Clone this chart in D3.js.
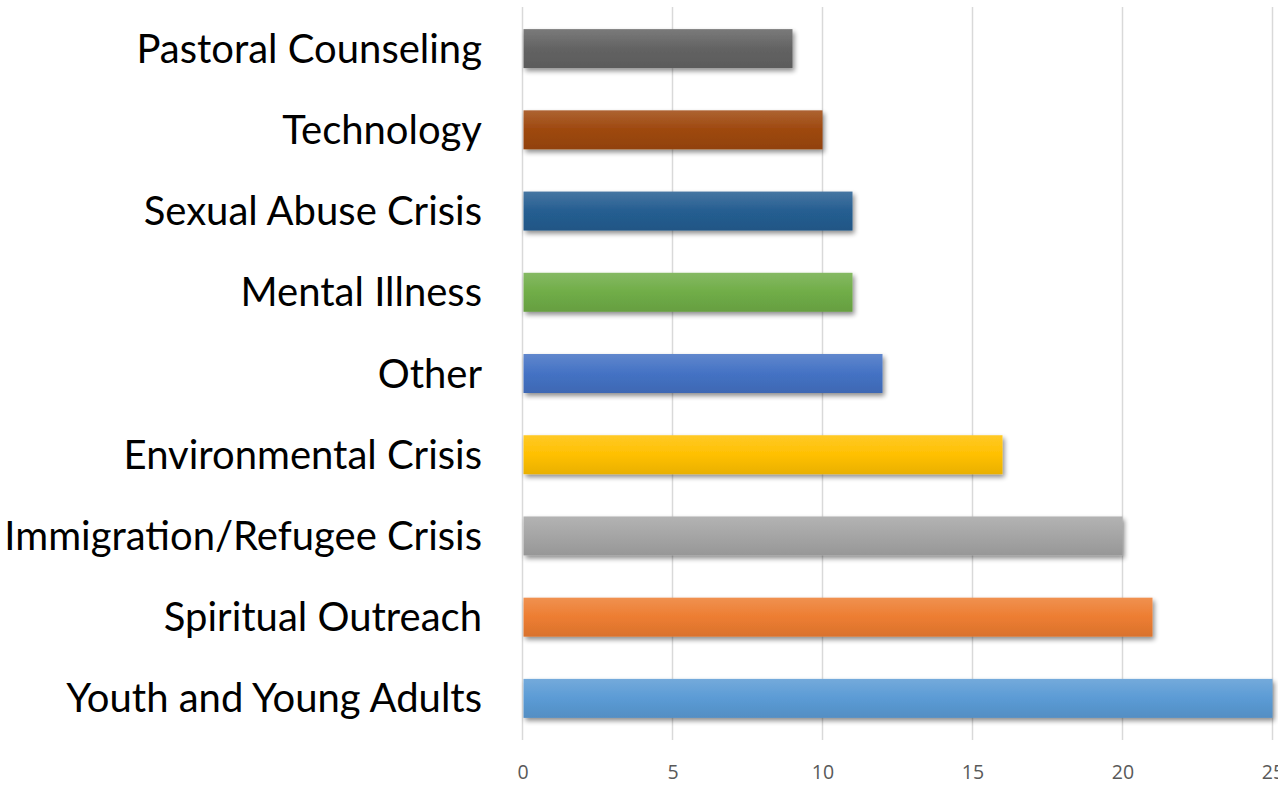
<!DOCTYPE html>
<html>
<head>
<meta charset="utf-8">
<script src="https://cdn.jsdelivr.net/npm/d3@7"></script>
<style>
  html, body { margin: 0; padding: 0; background: #fff; overflow: hidden; }
  svg { display: block; }
</style>
</head>
<body>
<svg id="chart" width="1278" height="797"></svg>
<script>
// Data (top to bottom as displayed)
const categories = ["Pastoral Counseling", "Technology", "Sexual Abuse Crisis", "Mental Illness", "Other",
  "Environmental Crisis", "Immigration/Refugee Crisis", "Spiritual Outreach", "Youth and Young Adults"];
const values = [9, 10, 11, 11, 12, 16, 20, 21, 25];
const barColors = ["#636363", "#9E480E", "#255E91", "#70AD47", "#4472C4", "#FFC000", "#A5A5A5", "#ED7D31", "#5B9BD5"];
const tickValues = [0, 5, 10, 15, 20, 25];

(function () {
const svg = d3.select("#chart");
const pLeft = 522.5, pRight = 1272.5, pTop = 8, pBottom = 739;

const x = d3.scaleLinear().domain([0, 25]).range([pLeft, pRight]);
const y = d3.scaleBand().domain(categories).range([pTop, pBottom]).paddingInner(0.52).paddingOuter(0.26);

const defs = svg.append("defs");
barColors.forEach((c, i) => {
  const g = defs.append("linearGradient").attr("id", "g" + i).attr("x1", 0).attr("y1", 0).attr("x2", 0).attr("y2", 1);
  const base = d3.color(c);
  g.append("stop").attr("offset", "0%").attr("stop-color", d3.interpolateRgb(c, "#fff")(0.15));
  g.append("stop").attr("offset", "50%").attr("stop-color", c);
  g.append("stop").attr("offset", "100%").attr("stop-color", base.darker(0.25));
});
const f = defs.append("filter").attr("id", "shadow").attr("x", "-5%").attr("y", "-30%").attr("width", "110%").attr("height", "170%");
f.append("feGaussianBlur").attr("in", "SourceAlpha").attr("stdDeviation", 2.5).attr("result", "b");
f.append("feOffset").attr("in", "b").attr("dx", 2).attr("dy", 3).attr("result", "o");
f.append("feComponentTransfer").attr("in", "o").attr("result", "o2")
  .append("feFuncA").attr("type", "linear").attr("slope", 0.45);
const m = f.append("feMerge");
m.append("feMergeNode").attr("in", "o2");
m.append("feMergeNode").attr("in", "SourceGraphic");

// gridlines
svg.append("g").selectAll("line").data(tickValues).join("line")
  .attr("x1", d => x(d)).attr("x2", d => x(d))
  .attr("y1", pTop - 1).attr("y2", pBottom + 1)
  .attr("stroke", "#d9d9d9").attr("stroke-width", 1.5);

// bars
svg.append("g").selectAll("rect").data(categories).join("rect")
  .attr("x", x(0) + 1)
  .attr("y", d => y(d))
  .attr("width", (d, i) => x(values[i]) - x(0) - 1)
  .attr("height", y.bandwidth())
  .attr("fill", (d, i) => "url(#g" + i + ")")
  .attr("filter", "url(#shadow)");

// x axis
const xAxis = d3.axisBottom(x).tickValues(tickValues).tickSize(0).tickPadding(0);
const gx = svg.append("g").attr("transform", `translate(0,${pBottom + 26})`).call(xAxis);
gx.select(".domain").remove();
gx.selectAll("text").attr("font-family", "Open Sans, sans-serif").attr("font-size", 19.5).attr("fill", "#595959")
  .attr("dy", "0.71em");

// y labels
const yAxis = d3.axisLeft(y).tickSize(0).tickPadding(0);
const gy = svg.append("g").attr("transform", `translate(482,0)`).call(yAxis);
gy.select(".domain").remove();
gy.selectAll("text").attr("font-family", "Lato, sans-serif").attr("font-size", 40).attr("fill", "#000")
  .attr("dy", "0.35em");
})();
</script>
</body>
</html>
